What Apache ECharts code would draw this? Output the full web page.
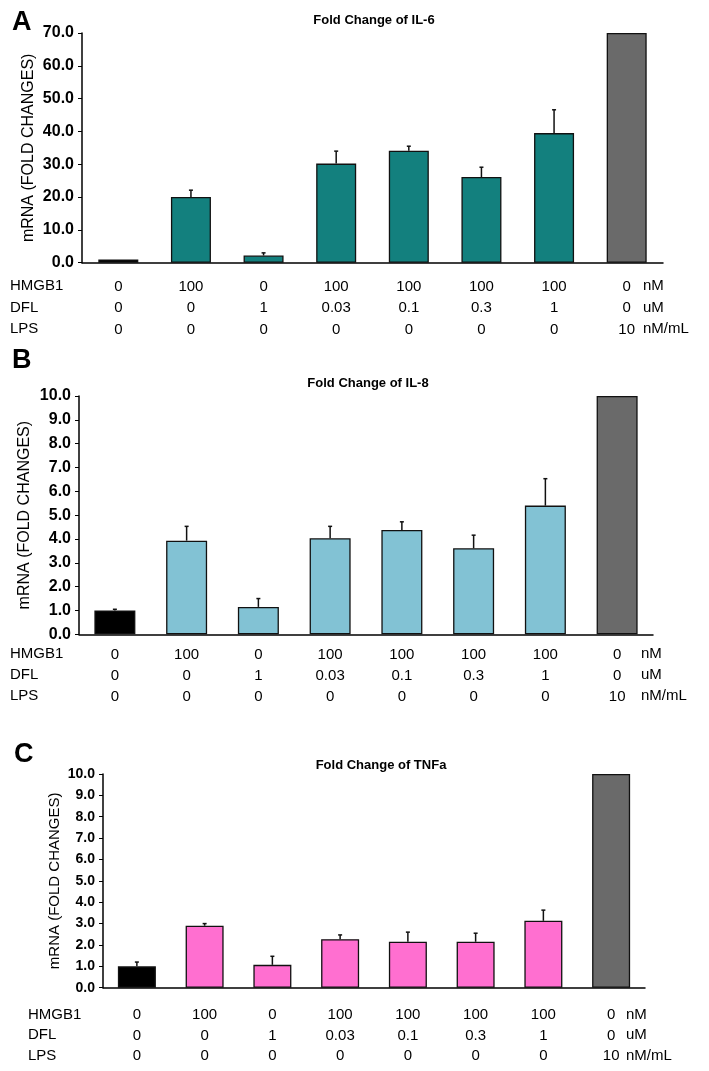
<!DOCTYPE html>
<html>
<head>
<meta charset="utf-8">
<script src="https://cdn.jsdelivr.net/npm/echarts@6/dist/echarts.min.js"></script>
<style>html,body{margin:0;padding:0;background:#fff}#c{width:709px;height:1071px}</style>
</head>
<body>
<div id="c"></div>
<script>
// ---- data ----
const categories = ['1','2','3','4','5','6','7','8'];
const hmgb1 = ['0','100','0','100','100','100','100','0'];
const dfl = ['0','0','1','0.03','0.1','0.3','1','0'];
const lps = ['0','0','0','0','0','0','0','10'];
const rowNames = ['HMGB1','DFL','LPS'];
const rowUnits = ['nM','uM','nM/mL'];
const panelLetters = ['A','B','C'];
const panelTitles = ['Fold Change of IL-6','Fold Change of IL-8','Fold Change of TNFa'];
const yAxisName = 'mRNA (FOLD CHANGES)';
const il6 = [1.0, 20.0, 2.2, 30.2, 34.1, 26.1, 39.5, 70];
const il6Err = [0, 2.1, 0.8, 3.8, 1.4, 3.0, 7.1, 0];
const il8 = [1.0, 3.93, 1.15, 4.03, 4.38, 3.61, 5.40, 10];
const il8Err = [0.05, 0.6, 0.35, 0.5, 0.34, 0.55, 1.13, 0];
const tnf = [1.0, 2.9, 1.07, 2.27, 2.15, 2.15, 3.13, 10];
const tnfErr = [0.2, 0.1, 0.4, 0.2, 0.45, 0.4, 0.5, 0];
const yMax = [70, 10, 10];
const yInterval = [10, 1, 1];

const FONT = '"Liberation Sans", Arial, Helvetica, sans-serif';
const panelColors = ['#13807e', '#82c2d4', '#ff6fd0'];
const firstColor = '#000000';
const lastColor = '#6a6a6a';

// layout per panel
const L = [
  {left:82, right:663, top:33, bottom:262.7, barW:40, tick:16, name:45, margin:8, lh:21.5, hdrX:10, unitX:643, titleX:369, titleY:15, letterX:7, letterY:4, nameSize:16, labelSize:15},
  {left:79, right:653, top:396, bottom:634.3, barW:41, tick:16, name:46, margin:8, lh:21, hdrX:10, unitX:641, titleX:363, titleY:378, letterX:7, letterY:342, nameSize:16, labelSize:15},
  {left:103, right:645, top:774, bottom:987.7, barW:38, tick:14, name:41, margin:8, lh:20.5, hdrX:28, unitX:626, titleX:376, titleY:760, letterX:9, letterY:736, nameSize:15, labelSize:15}
];
const xMargins = [13, 10, 17];
const values = [il6, il8, tnf];
const errs = [il6Err, il8Err, tnfErr];

const grids = [], xAxes = [], yAxes = [], series = [], titles = [], graphics = [];
L.forEach((p, k) => {
  const xm = xMargins[k];
  grids.push({left:p.left, top:p.top, width:p.right-p.left, height:p.bottom-p.top, containLabel:false});
  xAxes.push({
    type:'category', gridIndex:k, data:categories,
    axisLine:{lineStyle:{color:'#000', width:1.5}},
    axisTick:{alignWithLabel:true, length:3, lineStyle:{color:'#000'}},
    axisLabel:{
      interval:0, margin:xm, color:'#000', fontFamily:FONT, fontSize:p.labelSize, lineHeight:p.lh,
      formatter:(v, i) => hmgb1[i] + '\n' + dfl[i] + '\n' + lps[i]
    }
  });
  yAxes.push({
    type:'value', gridIndex:k, min:0, max:yMax[k], interval:yInterval[k],
    name:yAxisName, nameLocation:'middle', nameGap:p.name, nameMoveOverlap:false,
    nameTextStyle:{color:'#000', fontFamily:FONT, fontSize:p.nameSize},
    axisLine:{show:true, lineStyle:{color:'#000', width:1.5}},
    axisTick:{show:true, length:4, lineStyle:{color:'#000'}},
    splitLine:{show:false},
    axisLabel:{color:'#000', fontFamily:FONT, fontWeight:'bold', fontSize:p.tick, margin:p.margin,
      formatter:v => v.toFixed(1)}
  });
  const vals = values[k];
  series.push({
    type:'bar', xAxisIndex:k, yAxisIndex:k, barWidth:p.barW,
    data: vals.map((v, i) => ({value:v, itemStyle:{
      color: i === 0 ? firstColor : (i === vals.length-1 ? lastColor : panelColors[k]),
      borderColor:'#111', borderWidth:1.3}})),
    animation:false
  });
  series.push({
    type:'custom', xAxisIndex:k, yAxisIndex:k, z:5,
    data: vals.map((v, i) => [i, v, errs[k][i]]),
    encode:{x:0, y:1},
    renderItem:(params, api) => {
      const x = api.value(0), v = api.value(1), e = api.value(2);
      if (!e) return null;
      const a = api.coord([x, v]), b = api.coord([x, v + e]);
      return {type:'group', children:[
        {type:'line', shape:{x1:a[0], y1:a[1], x2:b[0], y2:b[1]}, style:{stroke:'#111', lineWidth:1.5}},
        {type:'line', shape:{x1:b[0]-2, y1:b[1], x2:b[0]+2, y2:b[1]}, style:{stroke:'#111', lineWidth:1.5}}
      ]};
    },
    animation:false
  });
  titles.push({text:panelTitles[k], left:p.titleX, top:p.titleY, textAlign:'center', textVerticalAlign:'middle',
    textStyle:{fontFamily:FONT, fontWeight:'bold', fontSize:13, color:'#000'}});
  titles.push({text:panelLetters[k], left:p.letterX, top:p.letterY,
    textStyle:{fontFamily:FONT, fontWeight:'bold', fontSize:27, color:'#000'}});
  const firstY = p.bottom + xm + p.lh/2;
  rowNames.forEach((r, j) => {
    graphics.push({type:'text', left:p.hdrX, top:firstY + j*p.lh - 8,
      style:{text:r, fontFamily:FONT, fontSize:p.labelSize, fill:'#000'}});
    graphics.push({type:'text', left:p.unitX, top:firstY + j*p.lh - 8,
      style:{text:rowUnits[j], fontFamily:FONT, fontSize:p.labelSize, fill:'#000'}});
  });
});

const chart = echarts.init(document.getElementById('c'), null, {renderer:'canvas'});
chart.setOption({
  animation:false,
  backgroundColor:'#fff',
  title:titles, grid:grids, xAxis:xAxes, yAxis:yAxes, series:series, graphic:graphics
});
</script>
</body>
</html>
